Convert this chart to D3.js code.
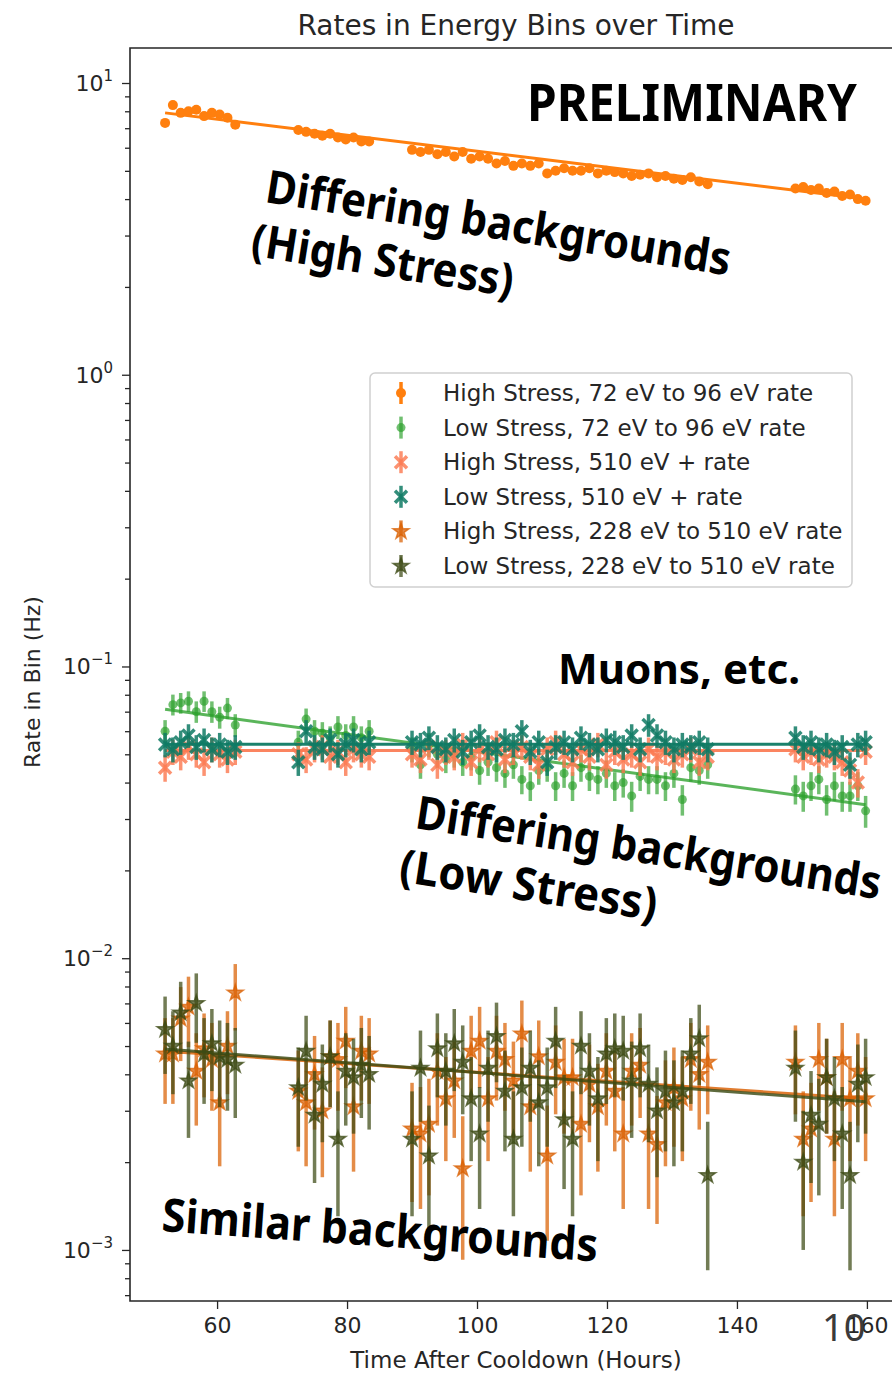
<!DOCTYPE html>
<html>
<head>
<meta charset="utf-8">
<style>
  body { margin: 0; background: #fff; }
  svg text { font-family: "DejaVu Sans", sans-serif; fill: #262626; }
  svg text.note { font-family: "Noto Sans", sans-serif; font-weight: bold; fill: #000; }
</style>
</head>
<body>
<svg id="chart"></svg>
<script src="https://cdn.jsdelivr.net/npm/d3@7"></script>
<script>
// time bins (hours after cooldown)
var times = [
  52, 53.2, 54.4, 55.6, 56.8, 58, 59.2, 60.4, 61.6, 62.8,
  72.5, 73.7, 75, 76.2, 77.4, 78.6, 79.8, 81, 82.2, 83.4,
  90, 91.3, 92.6, 93.9, 95.2, 96.5, 97.8, 99.1, 100.4, 101.7, 103, 104.3,
  105.6, 106.9, 108.2, 109.5, 110.8, 112.1, 113.4, 114.7, 116, 117.3, 118.6,
  119.9, 121.2, 122.5, 123.8, 125.1, 126.4, 127.7, 129, 130.3, 131.6, 132.9,
  134.2, 135.5,
  149, 150.2, 151.4, 152.6, 153.8, 155, 156.2, 157.4, 158.6, 159.8
];

// rates (Hz)
var hs72 = [
  7.3, 8.4, 7.9, 8.0, 8.1, 7.7, 7.9, 7.8, 7.6, 7.2,
  6.9, 6.8, 6.7, 6.6, 6.7, 6.5, 6.4, 6.5, 6.3, 6.3,
  5.9, 5.8, 5.9, 5.7, 5.8, 5.6, 5.8, 5.5, 5.6, 5.5, 5.3, 5.4,
  5.2, 5.3, 5.2, 5.3, 4.9, 5.0, 5.1, 5.0, 5.0, 5.1, 4.9,
  5.0, 4.95, 4.9, 4.8, 4.85, 4.9, 4.75, 4.8, 4.7, 4.65, 4.75,
  4.6, 4.5,
  4.35, 4.4, 4.3, 4.35, 4.2, 4.25, 4.1, 4.15, 4.0, 3.95
];
var ls72 = [
  0.060, 0.074, 0.075, 0.076, 0.070, 0.076, 0.070, 0.067, 0.072, 0.063,
  0.055, 0.066, 0.060, 0.059, 0.057, 0.062, 0.058, 0.062, 0.057, 0.060,
  0.052, 0.046, 0.054, 0.050, 0.048, 0.050, 0.047, 0.049, 0.044, 0.047, 0.045, 0.043,
  0.046, 0.041, 0.039, 0.044, 0.045, 0.039, 0.043, 0.039, 0.045, 0.042, 0.041,
  0.043, 0.039, 0.040, 0.036, 0.042, 0.041, 0.041, 0.039, 0.043, 0.035, 0.045,
  0.044, 0.046,
  0.038, 0.036, 0.039, 0.041, 0.035, 0.039, 0.036, 0.036, 0.039, 0.032
];
var hs510 = [
  0.045, 0.051, 0.049, 0.053, 0.050, 0.047, 0.052, 0.050, 0.048, 0.051,
  0.050, 0.048, 0.052, 0.053, 0.049, 0.051, 0.047, 0.052, 0.050, 0.049,
  0.050, 0.048, 0.053, 0.046, 0.051, 0.049, 0.054, 0.047, 0.052, 0.050, 0.055, 0.048,
  0.051, 0.053, 0.049, 0.046, 0.052, 0.055, 0.050, 0.047, 0.052, 0.049, 0.054,
  0.046, 0.051, 0.048, 0.050, 0.047, 0.052, 0.049, 0.051, 0.048, 0.050, 0.052,
  0.047, 0.049,
  0.052, 0.049, 0.051, 0.048, 0.050, 0.049, 0.047, 0.044, 0.040, 0.051
];
var ls510 = [
  0.054, 0.052, 0.055, 0.058, 0.053, 0.056, 0.052, 0.054, 0.051, 0.053,
  0.047, 0.060, 0.053, 0.052, 0.056, 0.050, 0.054, 0.056, 0.052, 0.055,
  0.055, 0.054, 0.057, 0.053, 0.052, 0.056, 0.051, 0.055, 0.058, 0.053, 0.052, 0.056,
  0.054, 0.060, 0.051, 0.055, 0.047, 0.053, 0.055, 0.052, 0.057, 0.054, 0.052,
  0.056, 0.055, 0.053, 0.058, 0.052, 0.063, 0.058, 0.055, 0.052, 0.054, 0.053,
  0.055, 0.052,
  0.057, 0.053, 0.055, 0.052, 0.054, 0.051, 0.053, 0.046, 0.054, 0.055
];
var hs228 = [
  0.0047, 0.0047, 0.0062, 0.0068, 0.0041, 0.0049, 0.0045, 0.0032, 0.0050, 0.0076,
  0.0035, 0.0032, 0.0040, 0.0030, 0.0046, 0.0045, 0.0052, 0.0031, 0.0048, 0.0047,
  0.0026, 0.0025, 0.0027, 0.0041, 0.0033, 0.0038, 0.0019, 0.0048, 0.0052, 0.0033, 0.0048, 0.0045,
  0.0038, 0.0055, 0.0031, 0.0046, 0.0021, 0.0044, 0.0039, 0.0039, 0.0027, 0.0037, 0.0031,
  0.0041, 0.0035, 0.0025, 0.0041, 0.0043, 0.0025, 0.0023, 0.0032, 0.0036, 0.0033, 0.0045,
  0.0040, 0.0044,
  0.0044, 0.0024, 0.0026, 0.0045, 0.0039, 0.0024, 0.0045, 0.0033, 0.0041, 0.0033
];
var ls228 = [
  0.0057, 0.0050, 0.0065, 0.0038, 0.0070, 0.0047, 0.0051, 0.0046, 0.0045, 0.0043,
  0.0036, 0.0048, 0.0029, 0.0037, 0.0046, 0.0024, 0.0041, 0.0039, 0.0043, 0.0040,
  0.0024, 0.0042, 0.0021, 0.0049, 0.0041, 0.0051, 0.0044, 0.0033, 0.0025, 0.0042, 0.0054, 0.0035,
  0.0024, 0.0036, 0.0042, 0.0032, 0.0036, 0.0052, 0.0028, 0.0024, 0.0050, 0.0041, 0.0033,
  0.0047, 0.0049, 0.0048, 0.0038, 0.0049, 0.0037, 0.0030, 0.0035, 0.0032, 0.0035, 0.0047,
  0.0053, 0.0018,
  0.0042, 0.0020, 0.0029, 0.0027, 0.0039, 0.0033, 0.0025, 0.0018, 0.0037, 0.0039
];

var labels = [
  "High Stress, 72 eV to 96 eV rate",
  "Low Stress, 72 eV to 96 eV rate",
  "High Stress, 510 eV + rate",
  "Low Stress, 510 eV + rate",
  "High Stress, 228 eV to 510 eV rate",
  "Low Stress, 228 eV to 510 eV rate"
];
// fitted rate at first and last time bin
var fitStart = [7.9, 0.0713, 0.0515, 0.0541, 0.00480, 0.00488];
var fitEnd = [4.0, 0.0336, 0.0515, 0.0541, 0.00330, 0.00322];
var binSeconds = 2000; // live time per bin, for poisson errors

var xTicks = [60, 80, 100, 120, 140, 160];
var yTicks = [1e-3, 1e-2, 1e-1, 1, 10];
var yTickExp = ["\u22123", "\u22122", "\u22121", "0", "1"];

var seriesValues = [hs72, ls72, hs510, ls510, hs228, ls228];
var styles = [
  { color: "#ff7f0e", marker: "circle", r: 5, op: 1 },
  { color: "#2ca02c", marker: "circle", r: 4.5, op: 0.68 },
  { color: "#fb7a52", marker: "x", op: 0.82 },
  { color: "#0f7a64", marker: "x", op: 0.85 },
  { color: "#d95f02", marker: "star", op: 0.72 },
  { color: "#3b4a14", marker: "star", op: 0.72 }
];

var W = 892, H = 1374;
var pL = 130, pR = 902, pT = 48, pB = 1301;

var svg = d3.select("#chart").attr("width", W).attr("height", H);

var x = d3.scaleLinear().domain([46.6, 165.4]).range([pL, pR]);
var y = d3.scaleLog().domain([Math.pow(10, -3.175), Math.pow(10, 1.12)]).range([pB, pT]);

svg.append("defs").append("clipPath").attr("id", "clip")
  .append("rect").attr("x", pL).attr("y", pT)
  .attr("width", pR - pL).attr("height", pB - pT);

function drawMarker(g, st) {
  if (st.marker == "circle") {
    g.append("circle").attr("r", st.r).attr("fill", st.color).attr("fill-opacity", st.op);
  } else if (st.marker == "x") {
    g.append("path").attr("d", "M-6,-6L6,6M-6,6L6,-6")
      .attr("stroke", st.color).attr("stroke-width", 3.5).attr("stroke-opacity", st.op);
  } else {
    g.append("path").attr("d", d3.symbol(d3.symbolStar, 80)())
      .attr("fill", st.color).attr("fill-opacity", st.op)
      .attr("stroke", st.color).attr("stroke-width", 1.5).attr("stroke-opacity", st.op);
  }
}

var plot = svg.append("g").attr("clip-path", "url(#clip)");

seriesValues.forEach(function(vals, si) {
  var st = styles[si];
  var pts = vals.map(function(v, i) {
    var err = Math.sqrt(v / binSeconds);
    return { t: times[i], v: v, lo: Math.max(v - err, 1e-5), hi: v + err };
  });
  var g = plot.append("g");
  g.selectAll("line.err").data(pts).enter().append("line")
    .attr("class", "err")
    .attr("x1", function(d) { return x(d.t); })
    .attr("x2", function(d) { return x(d.t); })
    .attr("y1", function(d) { return y(d.lo); })
    .attr("y2", function(d) { return y(d.hi); })
    .attr("stroke", st.color).attr("stroke-width", 3.5).attr("stroke-opacity", st.op);
  g.selectAll("g.pt").data(pts).enter().append("g")
    .attr("class", "pt")
    .attr("transform", function(d) { return "translate(" + x(d.t) + "," + y(d.v) + ")"; })
    .each(function() { drawMarker(d3.select(this), st); });
  // fit line (straight in log space)
  var t0 = times[0], t1 = times[times.length - 1];
  plot.append("line")
    .attr("x1", x(t0)).attr("y1", y(fitStart[si]))
    .attr("x2", x(t1)).attr("y2", y(fitEnd[si]))
    .attr("stroke", st.color).attr("stroke-width", 3)
    .attr("stroke-opacity", Math.min(1, st.op + 0.1));
});

// axes
var yMinor = [];
[-4, -3, -2, -1, 0, 1].forEach(function(e) {
  for (var k = 2; k <= 9; k++) {
    var v = k * Math.pow(10, e);
    if (v > y.domain()[0] && v < y.domain()[1]) yMinor.push(v);
  }
});
var yAxMinor = svg.append("g").attr("transform", "translate(" + pL + ",0)")
  .call(d3.axisLeft(y).tickValues(yMinor).tickSize(5).tickFormat(""));
var yAx = svg.append("g").attr("transform", "translate(" + pL + ",0)")
  .call(d3.axisLeft(y).tickValues(yTicks).tickSize(8).tickFormat(""));
var xAx = svg.append("g").attr("transform", "translate(0," + pB + ")")
  .call(d3.axisBottom(x).tickValues(xTicks).tickSize(8).tickPadding(8));
[yAxMinor, yAx, xAx].forEach(function(a) {
  a.select(".domain").remove();
  a.selectAll(".tick line").attr("stroke", "#262626").attr("stroke-width", 1.3);
});
xAx.selectAll(".tick text").attr("font-size", 22).attr("font-family", "DejaVu Sans").attr("fill", "#262626");

yTicks.forEach(function(v, i) {
  var t = svg.append("text").attr("x", 113).attr("y", y(v) + 8)
    .attr("text-anchor", "end").attr("font-size", 22);
  t.append("tspan").text("10");
  t.append("tspan").attr("dy", -10).attr("font-size", 15).text(yTickExp[i]);
});

// spines
svg.append("path")
  .attr("d", "M" + pR + "," + pT + "H" + pL + "V" + pB + "H" + pR)
  .attr("fill", "none").attr("stroke", "#262626").attr("stroke-width", 1.6);

// titles
svg.append("text").attr("x", (pL + pR) / 2).attr("y", 35)
  .attr("text-anchor", "middle").attr("font-size", 28)
  .text("Rates in Energy Bins over Time");
svg.append("text").attr("x", (pL + pR) / 2).attr("y", 1368)
  .attr("text-anchor", "middle").attr("font-size", 23)
  .text("Time After Cooldown (Hours)");
svg.append("text").attr("transform", "translate(40,682) rotate(-90)")
  .attr("text-anchor", "middle").attr("font-size", 22)
  .text("Rate in Bin (Hz)");

// legend
var leg = svg.append("g").attr("transform", "translate(370,373)");
leg.append("rect").attr("width", 482).attr("height", 214).attr("rx", 5)
  .attr("fill", "#fff").attr("fill-opacity", 0.8)
  .attr("stroke", "#d0d0d0").attr("stroke-width", 1.5);
labels.forEach(function(lab, i) {
  var row = leg.append("g").attr("transform", "translate(31," + (20 + i * 34.6) + ")");
  row.append("line").attr("y1", -11).attr("y2", 11)
    .attr("stroke", styles[i].color).attr("stroke-width", 3.5).attr("stroke-opacity", styles[i].op);
  drawMarker(row, styles[i]);
  row.append("text").attr("x", 42).attr("y", 8).attr("font-size", 23).text(lab);
});

// slide annotations
function note(x0, y0, angle, size, lines) {
  var g = svg.append("g").attr("transform", "translate(" + x0 + "," + y0 + ") rotate(" + angle + ")");
  lines.forEach(function(l, i) {
    g.append("text").attr("class", "note").attr("x", l[1]).attr("y", i * 55)
      .attr("font-size", size).attr("textLength", l[2]).attr("lengthAdjust", "spacingAndGlyphs")
      .text(l[0]);
  });
}
note(527, 121, 0, 52, [["PRELIMINARY", 0, 330]]);
note(558, 684, 0, 42, [["Muons, etc.", 0, 242]]);
note(264, 202, 9, 46, [["Differing backgrounds", 0, 470], ["(High Stress)", -6, 265]]);
note(414, 828, 8.7, 46, [["Differing backgrounds", 0, 470], ["(Low Stress)", -8, 260]]);
note(161, 1231, 4, 46, [["Similar backgrounds", 0, 437]]);

svg.append("text").attr("x", 822).attr("y", 1341)
  .attr("font-size", 38)
  .style("font-family", "Noto Sans").style("fill", "#3a3a3a")
  .text("10");
</script>
</body>
</html>
